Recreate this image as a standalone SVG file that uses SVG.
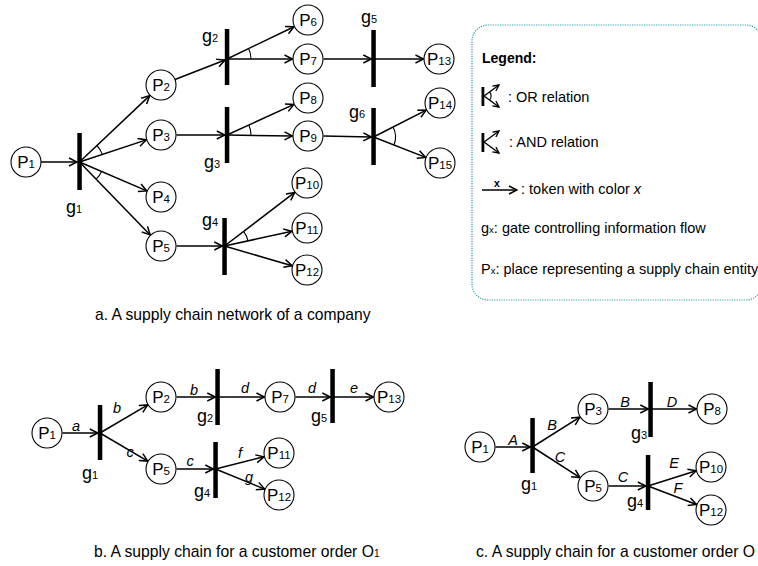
<svg xmlns="http://www.w3.org/2000/svg" width="758" height="566" viewBox="0 0 758 566">
<defs>
<marker id="ah" viewBox="0 0 10 10" refX="9" refY="5" markerWidth="10" markerHeight="10" markerUnits="userSpaceOnUse" orient="auto">
<path d="M1,1 L9,5 L1,9" fill="none" stroke="#000" stroke-width="1.5"/>
</marker>
<marker id="ahs" viewBox="0 0 10 10" refX="9" refY="5" markerWidth="7.5" markerHeight="7.5" markerUnits="userSpaceOnUse" orient="auto">
<path d="M1,1 L9,5 L1,9" fill="none" stroke="#000" stroke-width="1.8"/>
</marker>
</defs>
<style>
.ln{stroke:#000;stroke-width:1.5;fill:none;marker-end:url(#ah)}
.lns{stroke:#000;stroke-width:1.4;fill:none;marker-end:url(#ahs)}
.arc{stroke:#000;stroke-width:1.1;fill:none}
.gate{fill:#000}
.pl{fill:#fff;stroke:#000;stroke-width:1.1}
text{font-family:"Liberation Sans",Arial,Helvetica,sans-serif;fill:#000}
.pt{font-size:17px;text-anchor:middle}
.sub{font-size:11.5px}
.gt{font-size:18px}
.gs{font-size:11px}
.lab{font-size:14.5px;font-style:italic;text-anchor:middle}
.cap{font-size:15.7px}
.leg{font-size:14.5px}
.lsub{font-size:9.5px}
</style>

<!-- ===== a. network ===== -->
<g id="a-connectors">
<line class="ln" x1="41" y1="162" x2="77" y2="162"/>
<line class="ln" x1="79.5" y1="162" x2="149.7" y2="95.6"/>
<line class="ln" x1="79.5" y1="162" x2="146.3" y2="139.9"/>
<line class="ln" x1="79.5" y1="162" x2="146.8" y2="190.9"/>
<line class="ln" x1="79.5" y1="162" x2="150.2" y2="234.9"/>
<path class="arc" d="M96.95,145.5 A24,24 0 0 1 102.28,154.45"/>
<path class="arc" d="M101.56,171.47 A24,24 0 0 1 96.22,179.23"/>
<line class="ln" x1="175" y1="79.5" x2="225" y2="60"/>
<line class="ln" x1="227" y1="59" x2="294" y2="26.7"/>
<line class="ln" x1="227" y1="59" x2="292.5" y2="59"/>
<path class="arc" d="M248.6,48.6 A24,24 0 0 1 251,59"/>
<line class="ln" x1="323.5" y1="59" x2="371.3" y2="59"/>
<line class="ln" x1="373.5" y1="59" x2="423.5" y2="59"/>
<line class="ln" x1="176.5" y1="135" x2="224.8" y2="135"/>
<line class="ln" x1="227" y1="135" x2="293.9" y2="104.4"/>
<line class="ln" x1="227" y1="135" x2="292.5" y2="136"/>
<path class="arc" d="M248.8,125 A24,24 0 0 1 251,135.3"/>
<line class="ln" x1="323.5" y1="136" x2="371.3" y2="137"/>
<line class="ln" x1="373.5" y1="137" x2="426.2" y2="110.1"/>
<line class="ln" x1="373.5" y1="137" x2="425.6" y2="157.4"/>
<path class="arc" d="M393.1,127 A22,22 0 0 1 394,145"/>
<line class="ln" x1="176.5" y1="246" x2="222.3" y2="246"/>
<line class="ln" x1="224.5" y1="246" x2="294.7" y2="192.4"/>
<line class="ln" x1="224.5" y1="246" x2="291.9" y2="231.3"/>
<line class="ln" x1="224.5" y1="246" x2="292.1" y2="265.7"/>
<path class="arc" d="M243.6,231.4 A24,24 0 0 1 248,240.9"/>
</g>

<g id="a-P1"><circle class="pl" cx="26" cy="162" r="15"/><text class="pt" x="26" y="168">P<tspan class="sub">1</tspan></text></g>
<g id="a-P2"><circle class="pl" cx="161" cy="85" r="15"/><text class="pt" x="161" y="91">P<tspan class="sub">2</tspan></text></g>
<g id="a-P3"><circle class="pl" cx="161" cy="135" r="15"/><text class="pt" x="161" y="141">P<tspan class="sub">3</tspan></text></g>
<g id="a-P4"><circle class="pl" cx="161" cy="197" r="15"/><text class="pt" x="161" y="203">P<tspan class="sub">4</tspan></text></g>
<g id="a-P5"><circle class="pl" cx="161" cy="246" r="15"/><text class="pt" x="161" y="252">P<tspan class="sub">5</tspan></text></g>
<g id="a-P6"><circle class="pl" cx="308" cy="20" r="15"/><text class="pt" x="308" y="26">P<tspan class="sub">6</tspan></text></g>
<g id="a-P7"><circle class="pl" cx="308" cy="59" r="15"/><text class="pt" x="308" y="65">P<tspan class="sub">7</tspan></text></g>
<g id="a-P8"><circle class="pl" cx="308" cy="98" r="15"/><text class="pt" x="308" y="104">P<tspan class="sub">8</tspan></text></g>
<g id="a-P9"><circle class="pl" cx="308" cy="136" r="15"/><text class="pt" x="308" y="142">P<tspan class="sub">9</tspan></text></g>
<g id="a-P10"><circle class="pl" cx="307" cy="183" r="15"/><text class="pt" x="307" y="189">P<tspan class="sub">10</tspan></text></g>
<g id="a-P11"><circle class="pl" cx="307" cy="228" r="15"/><text class="pt" x="307" y="234">P<tspan class="sub">11</tspan></text></g>
<g id="a-P12"><circle class="pl" cx="307" cy="270" r="15"/><text class="pt" x="307" y="276">P<tspan class="sub">12</tspan></text></g>
<g id="a-P13"><circle class="pl" cx="439" cy="59" r="15"/><text class="pt" x="439" y="65">P<tspan class="sub">13</tspan></text></g>
<g id="a-P14"><circle class="pl" cx="440" cy="103" r="15"/><text class="pt" x="440" y="109">P<tspan class="sub">14</tspan></text></g>
<g id="a-P15"><circle class="pl" cx="440" cy="163" r="15"/><text class="pt" x="440" y="169">P<tspan class="sub">15</tspan></text></g>

<g id="a-g1"><rect class="gate" x="77.3" y="133" width="4.5" height="57"/><text class="gt" x="66" y="213">g<tspan class="gs">1</tspan></text></g>
<g id="a-g2"><rect class="gate" x="224.8" y="29" width="4.5" height="56"/><text class="gt" x="202" y="41.5">g<tspan class="gs">2</tspan></text></g>
<g id="a-g3"><rect class="gate" x="224.8" y="107" width="4.5" height="56"/><text class="gt" x="204" y="168">g<tspan class="gs">3</tspan></text></g>
<g id="a-g4"><rect class="gate" x="222.3" y="218" width="4.5" height="57"/><text class="gt" x="202" y="226">g<tspan class="gs">4</tspan></text></g>
<g id="a-g5"><rect class="gate" x="371.3" y="30" width="4.5" height="57"/><text class="gt" x="361" y="23">g<tspan class="gs">5</tspan></text></g>
<g id="a-g6"><rect class="gate" x="371.3" y="108" width="4.5" height="57"/><text class="gt" x="349" y="118">g<tspan class="gs">6</tspan></text></g>

<text class="cap" x="95" y="320">a. A supply chain network of a company</text>

<!-- ===== legend ===== -->
<g id="legend">
<rect x="472" y="25" width="290" height="275" rx="16" ry="16" fill="none" stroke="#2e9fa3" stroke-width="1.2" stroke-dasharray="1.2 1.2"/>
<text x="482" y="63" style="font-size:14px;font-weight:bold">Legend:</text>
<g id="legend-or">
<rect x="481.5" y="87" width="2.8" height="19"/>
<line class="lns" x1="484" y1="96" x2="499" y2="85"/>
<line class="lns" x1="484" y1="96" x2="499" y2="107"/>
<path class="arc" d="M489.6,91.9 A7,7 0 0 1 489.6,100.1"/>
<text class="leg" x="508" y="102">: OR relation</text>
</g>
<g id="legend-and">
<rect x="481.5" y="133" width="2.8" height="19"/>
<line class="lns" x1="484" y1="142" x2="499" y2="131"/>
<line class="lns" x1="484" y1="142" x2="499" y2="153"/>
<text class="leg" x="509" y="147">: AND relation</text>
</g>
<g id="legend-token">
<line class="ln" x1="482" y1="190" x2="517" y2="190"/>
<text x="497" y="186.5" style="font-size:10.5px;text-anchor:middle;font-weight:bold">x</text>
<text class="leg" x="521" y="194">: token with color <tspan style="font-style:italic">x</tspan></text>
</g>
<text class="leg" x="481" y="233">g<tspan class="lsub">x</tspan>: gate controlling information flow</text>
<text class="leg" x="481" y="274">P<tspan class="lsub">x</tspan>: place representing a supply chain entity</text>
</g>

<!-- ===== b. order O1 ===== -->
<g id="b-connectors">
<line class="ln" x1="62.5" y1="433" x2="97.8" y2="433"/>
<line class="ln" x1="100" y1="433" x2="147.7" y2="404.9"/>
<line class="ln" x1="100" y1="433" x2="147.7" y2="461.1"/>
<line class="ln" x1="176.5" y1="397" x2="215.3" y2="397"/>
<line class="ln" x1="217.5" y1="397" x2="264.5" y2="397"/>
<line class="ln" x1="295.5" y1="397" x2="330.3" y2="397"/>
<line class="ln" x1="332.5" y1="397" x2="373.5" y2="397"/>
<line class="ln" x1="176.5" y1="469" x2="213.3" y2="469"/>
<line class="ln" x1="215.5" y1="469" x2="264" y2="456.8"/>
<line class="ln" x1="215.5" y1="469" x2="264.7" y2="489.1"/>
<text class="lab" x="76" y="431">a</text>
<text class="lab" x="117" y="413">b</text>
<text class="lab" x="130" y="457">c</text>
<text class="lab" x="194" y="395">b</text>
<text class="lab" x="245" y="393">d</text>
<text class="lab" x="312" y="393">d</text>
<text class="lab" x="354" y="393">e</text>
<text class="lab" x="190" y="466">c</text>
<text class="lab" x="240" y="458">f</text>
<text class="lab" x="249" y="482">g</text>
</g>
<g id="b-P1"><circle class="pl" cx="47" cy="433" r="15"/><text class="pt" x="47" y="439">P<tspan class="sub">1</tspan></text></g>
<g id="b-P2"><circle class="pl" cx="161" cy="397" r="15"/><text class="pt" x="161" y="403">P<tspan class="sub">2</tspan></text></g>
<g id="b-P5"><circle class="pl" cx="161" cy="469" r="15"/><text class="pt" x="161" y="475">P<tspan class="sub">5</tspan></text></g>
<g id="b-P7"><circle class="pl" cx="280" cy="397" r="15"/><text class="pt" x="280" y="403">P<tspan class="sub">7</tspan></text></g>
<g id="b-P13"><circle class="pl" cx="389" cy="397" r="15"/><text class="pt" x="389" y="403">P<tspan class="sub">13</tspan></text></g>
<g id="b-P11"><circle class="pl" cx="279" cy="453" r="15"/><text class="pt" x="279" y="459">P<tspan class="sub">11</tspan></text></g>
<g id="b-P12"><circle class="pl" cx="279" cy="495" r="15"/><text class="pt" x="279" y="501">P<tspan class="sub">12</tspan></text></g>
<g id="b-g1"><rect class="gate" x="97.8" y="405" width="4.5" height="55"/><text class="gt" x="82" y="479">g<tspan class="gs">1</tspan></text></g>
<g id="b-g2"><rect class="gate" x="215.3" y="369" width="4.5" height="56"/><text class="gt" x="197" y="422">g<tspan class="gs">2</tspan></text></g>
<g id="b-g5"><rect class="gate" x="330.3" y="369" width="4.5" height="54"/><text class="gt" x="311" y="422">g<tspan class="gs">5</tspan></text></g>
<g id="b-g4"><rect class="gate" x="213.3" y="442" width="4.5" height="56"/><text class="gt" x="194" y="497">g<tspan class="gs">4</tspan></text></g>
<text class="cap" x="94" y="557">b. A supply chain for a customer order O<tspan style="font-size:10px">1</tspan></text>

<!-- ===== c. order O2 ===== -->
<g id="c-connectors">
<line class="ln" x1="495.5" y1="447" x2="530.3" y2="447"/>
<line class="ln" x1="532.5" y1="447" x2="579.9" y2="417.2"/>
<line class="ln" x1="532.5" y1="447" x2="580" y2="477.6"/>
<line class="ln" x1="608.5" y1="409" x2="648.3" y2="409"/>
<line class="ln" x1="650.5" y1="409" x2="696.5" y2="409"/>
<line class="ln" x1="608.5" y1="486" x2="645.8" y2="486"/>
<line class="ln" x1="648" y1="486" x2="696.2" y2="470.7"/>
<line class="ln" x1="648" y1="486" x2="696.5" y2="504.5"/>
<text class="lab" x="513" y="445">A</text>
<text class="lab" x="552" y="430">B</text>
<text class="lab" x="560" y="462">C</text>
<text class="lab" x="625" y="407">B</text>
<text class="lab" x="672" y="407">D</text>
<text class="lab" x="623" y="482">C</text>
<text class="lab" x="674" y="468">E</text>
<text class="lab" x="678" y="493">F</text>
</g>
<g id="c-P1"><circle class="pl" cx="480" cy="447" r="15"/><text class="pt" x="480" y="453">P<tspan class="sub">1</tspan></text></g>
<g id="c-P3"><circle class="pl" cx="593" cy="409" r="15"/><text class="pt" x="593" y="415">P<tspan class="sub">3</tspan></text></g>
<g id="c-P5"><circle class="pl" cx="593" cy="486" r="15"/><text class="pt" x="593" y="492">P<tspan class="sub">5</tspan></text></g>
<g id="c-P8"><circle class="pl" cx="712" cy="409" r="15"/><text class="pt" x="712" y="415">P<tspan class="sub">8</tspan></text></g>
<g id="c-P10"><circle class="pl" cx="711" cy="467" r="15"/><text class="pt" x="711" y="473">P<tspan class="sub">10</tspan></text></g>
<g id="c-P12"><circle class="pl" cx="711" cy="510" r="15"/><text class="pt" x="711" y="516">P<tspan class="sub">12</tspan></text></g>
<g id="c-g1"><rect class="gate" x="530.3" y="418" width="4.5" height="55"/><text class="gt" x="521" y="490">g<tspan class="gs">1</tspan></text></g>
<g id="c-g3"><rect class="gate" x="648.3" y="382" width="4.5" height="55"/><text class="gt" x="631" y="439">g<tspan class="gs">3</tspan></text></g>
<g id="c-g4"><rect class="gate" x="645.8" y="455" width="4.5" height="55"/><text class="gt" x="627" y="507">g<tspan class="gs">4</tspan></text></g>
<text class="cap" x="476" y="557">c. A supply chain for a customer order O</text>
</svg>
